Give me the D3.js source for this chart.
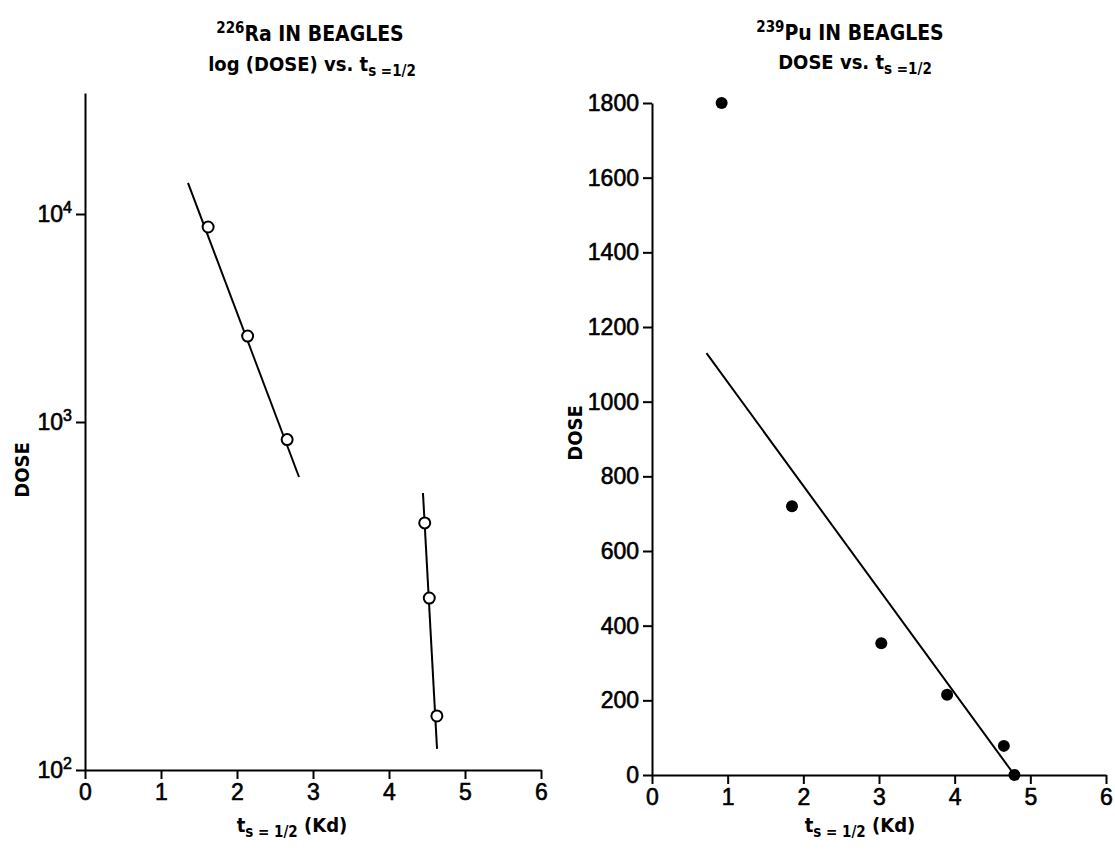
<!DOCTYPE html>
<html>
<head>
<meta charset="utf-8">
<script src="https://cdn.jsdelivr.net/npm/d3@7"></script>
<style>
  html, body { margin: 0; padding: 0; background: #fff; }
  svg { display: block; }
  text { font-family: "Liberation Sans", "DejaVu Sans", sans-serif; fill: #000; }
  .lbl { font-family: "DejaVu Sans Condensed", "DejaVu Sans", sans-serif; font-weight: bold; }
</style>
</head>
<body>
<svg id="chart" width="1115" height="853"></svg>
<script>
// ---- 226Ra in beagles: dose (log) vs. survival half-time ----
const raTsUpper   = [1.62, 2.14, 2.66];
const raDoseUpper = [8660, 2590, 890];
const raTsLower   = [4.47, 4.53, 4.63];
const raDoseLower = [513, 312, 143];
const raFitUpperTs   = [1.355, 2.816];
const raFitUpperDose = [14100, 695];
const raFitLowerTs   = [4.447, 4.632];
const raFitLowerDose = [625, 115];
const raDoseTicks = [100, 1000, 10000];
const raDoseTickExp = ["2", "3", "4"];

// ---- 239Pu in beagles: dose (linear) vs. survival half-time ----
const puTs   = [0.92, 1.85, 3.03, 3.9, 4.65, 4.79];
const puDose = [1800, 720, 353, 215, 78, 0];
const puFitTs   = [0.72, 4.79];
const puFitDose = [1130, 0];
const puDoseTicks = [0, 200, 400, 600, 800, 1000, 1200, 1400, 1600, 1800];

const tsTicks = [0, 1, 2, 3, 4, 5, 6];

const svg = d3.select("#chart");

// Left panel scales (log axis drawn with hand-ruled decades)
const xL = d3.scaleLinear().domain([0, 6]).range([85, 541]);
const yL = d3.scaleLog().domain([100, 1000, 10000, 38000]).range([770, 422, 214, 93]);

// Right panel scales
const xR = d3.scaleLinear().domain([0, 6]).range([652, 1106]);
const yR = d3.scaleLinear().domain([0, 1800]).range([775, 103]);

const tickFont = 23;

function styleAxis(g) {
  g.selectAll("path.domain").attr("stroke", "#000").attr("stroke-width", 2);
  g.selectAll(".tick line").attr("stroke", "#000").attr("stroke-width", 2);
  g.selectAll(".tick text").attr("font-size", tickFont)
    .attr("stroke", "#000").attr("stroke-width", 0.6)
    .style("font-family", '"Liberation Sans", "DejaVu Sans", sans-serif');
}

// ---------- Left panel ----------
const gLx = svg.append("g").attr("transform", `translate(0,${yL(100)})`)
  .call(d3.axisBottom(xL).tickValues(tsTicks).tickFormat(d3.format("d"))
    .tickSize(9).tickSizeOuter(0).tickPadding(5));
styleAxis(gLx);

const gLy = svg.append("g").attr("transform", `translate(${xL(0)},0)`)
  .call(d3.axisLeft(yL).tickValues(raDoseTicks).tickSize(9).tickSizeOuter(0).tickPadding(4).tickFormat(() => ""));
styleAxis(gLy);
gLy.selectAll(".tick text").each(function(d, i) {
  const t = d3.select(this);
  t.text(null);
  t.append("tspan").text("10");
  t.append("tspan").attr("font-size", 16).attr("dy", -9).text(raDoseTickExp[i]);
});

// fit lines
const lineL = d3.line().x(d => xL(d[0])).y(d => yL(d[1]));
svg.append("path").datum(d3.zip(raFitUpperTs, raFitUpperDose))
  .attr("d", lineL).attr("fill", "none").attr("stroke", "#000").attr("stroke-width", 2);
svg.append("path").datum(d3.zip(raFitLowerTs, raFitLowerDose))
  .attr("d", lineL).attr("fill", "none").attr("stroke", "#000").attr("stroke-width", 2);

// open circles
svg.append("g").selectAll("circle")
  .data(d3.zip(raTsUpper.concat(raTsLower), raDoseUpper.concat(raDoseLower)))
  .join("circle")
  .attr("cx", d => xL(d[0])).attr("cy", d => yL(d[1])).attr("r", 5.5)
  .attr("fill", "#fff").attr("stroke", "#000").attr("stroke-width", 2);

// titles and labels
const tL = svg.append("text").attr("class", "lbl").attr("x", 310).attr("y", 41).attr("text-anchor", "middle")
  .attr("font-size", 21);
tL.append("tspan").attr("font-size", 15).attr("dy", -8).text("226");
tL.append("tspan").attr("dy", 8).text("Ra  IN  BEAGLES");

const tL2 = svg.append("text").attr("class", "lbl").attr("x", 312).attr("y", 71).attr("text-anchor", "middle")
  .attr("font-size", 20);
tL2.append("tspan").text("log (DOSE) vs. t");
tL2.append("tspan").attr("font-size", 15).attr("dy", 5).text("s =1/2");

svg.append("text").attr("class", "lbl").attr("transform", "translate(29,470) rotate(-90)")
  .attr("text-anchor", "middle").attr("font-size", 20).text("DOSE");

const xlL = svg.append("text").attr("class", "lbl").attr("x", 292).attr("y", 832).attr("text-anchor", "middle")
  .attr("font-size", 20);
xlL.append("tspan").text("t");
xlL.append("tspan").attr("font-size", 15).attr("dy", 5).text("s = 1/2");
xlL.append("tspan").attr("dy", -5).text(" (Kd)");

// ---------- Right panel ----------
const gRx = svg.append("g").attr("transform", `translate(0,${yR(0)})`)
  .call(d3.axisBottom(xR).tickValues(tsTicks).tickFormat(d3.format("d"))
    .tickSize(9).tickSizeOuter(0).tickPadding(5));
styleAxis(gRx);

const gRy = svg.append("g").attr("transform", `translate(${xR(0)},0)`)
  .call(d3.axisLeft(yR).tickValues(puDoseTicks).tickFormat(d3.format("d"))
    .tickSize(9).tickSizeOuter(0).tickPadding(4));
styleAxis(gRy);

const lineR = d3.line().x(d => xR(d[0])).y(d => yR(d[1]));
svg.append("path").datum(d3.zip(puFitTs, puFitDose))
  .attr("d", lineR).attr("fill", "none").attr("stroke", "#000").attr("stroke-width", 2);

svg.append("g").selectAll("circle")
  .data(d3.zip(puTs, puDose))
  .join("circle")
  .attr("cx", d => xR(d[0])).attr("cy", d => yR(d[1])).attr("r", 6)
  .attr("fill", "#000");

const tR = svg.append("text").attr("class", "lbl").attr("x", 850).attr("y", 40).attr("text-anchor", "middle")
  .attr("font-size", 21);
tR.append("tspan").attr("font-size", 15).attr("dy", -8).text("239");
tR.append("tspan").attr("dy", 8).text("Pu  IN  BEAGLES");

const tR2 = svg.append("text").attr("class", "lbl").attr("x", 855).attr("y", 69).attr("text-anchor", "middle")
  .attr("font-size", 20);
tR2.append("tspan").text("DOSE vs. t");
tR2.append("tspan").attr("font-size", 15).attr("dy", 5).text("s =1/2");

svg.append("text").attr("class", "lbl").attr("transform", "translate(582,433) rotate(-90)")
  .attr("text-anchor", "middle").attr("font-size", 20).text("DOSE");

const xlR = svg.append("text").attr("class", "lbl").attr("x", 860).attr("y", 832).attr("text-anchor", "middle")
  .attr("font-size", 20);
xlR.append("tspan").text("t");
xlR.append("tspan").attr("font-size", 15).attr("dy", 5).text("s = 1/2");
xlR.append("tspan").attr("dy", -5).text(" (Kd)");
</script>
</body>
</html>
